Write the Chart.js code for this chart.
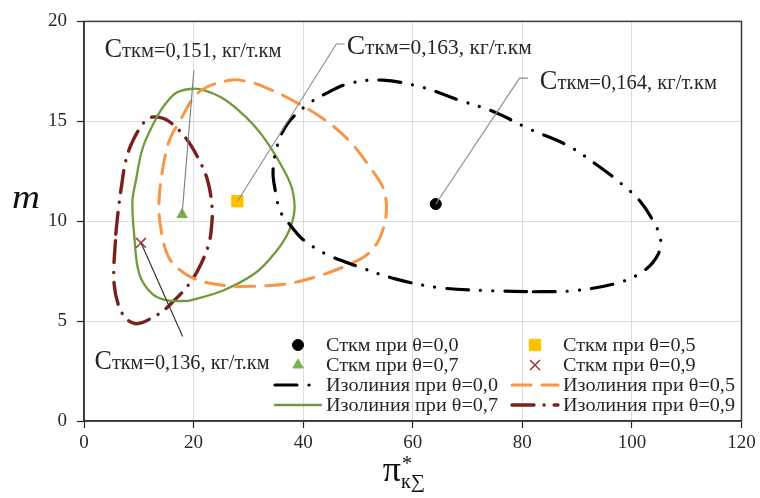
<!DOCTYPE html>
<html>
<head>
<meta charset="utf-8">
<script src="https://cdn.jsdelivr.net/npm/chart.js@4.4.1/dist/chart.umd.min.js"></script>
<style>
  html, body { margin: 0; padding: 0; background: #fff; }
  #wrap { width: 760px; height: 498px; }
</style>
</head>
<body>
<div id="wrap"><canvas id="myChart"></canvas></div>
<script>
// optimum points for each theta
const thetaLabels = ['0,0', '0,5', '0,7', '0,9'];
const optX = [64.2, 28.0, 17.9, 10.4];
const optY = [10.86, 11.0, 10.33, 8.92];
const costValues = ['0,164', '0,163', '0,151', '0,136'];

// isolines (closed loops, each starts on a flat part)
const iso00X = [82.0, 89.3, 97.3, 102.1, 104.8, 105.2, 103.9, 101.5, 98.4, 94.2, 88.2, 81.4, 74.6, 68.0, 61.8, 54.5, 48.5, 44.2, 40.6, 37.2, 35.4, 34.5, 35.0, 35.8, 37.5, 39.9, 44.2, 49.7, 57.0, 64.9, 74.6, 82.0];
const iso00Y = [6.47, 6.52, 6.9, 7.5, 8.35, 9.15, 10.0, 11.0, 11.8, 12.7, 13.8, 14.6, 15.5, 16.1, 16.7, 17.06, 16.9, 16.4, 15.8, 14.9, 13.9, 12.5, 11.4, 10.5, 9.85, 9.1, 8.35, 7.76, 7.1, 6.67, 6.52, 6.47];

const iso05X = [27.7, 33.2, 37.5, 43.3, 48.5, 51.8, 54.0, 55.2, 54.6, 52.7, 48.5, 43.6, 37.5, 33.5, 30.2, 26.5, 21.0, 17.4, 15.5, 14.3, 13.7, 14.0, 15.5, 18.6, 22.3, 27.7];
const iso05Y = [6.72, 6.77, 6.88, 7.3, 7.85, 8.35, 9.17, 10.5, 11.66, 12.5, 14.0, 15.14, 16.13, 16.65, 16.97, 17.05, 16.47, 14.98, 13.98, 12.49, 11.0, 9.67, 8.17, 7.35, 6.93, 6.72];

const iso07X = [19.2, 25.3, 31.4, 35.1, 37.3, 38.4, 38.0, 36.6, 33.8, 31.0, 28.0, 25.0, 22.0, 19.9, 17.0, 14.8, 12.9, 10.7, 9.45, 8.84, 9.15, 10.1, 12.5, 15.5, 19.2];
const iso07Y = [6.02, 6.52, 7.43, 8.5, 9.45, 10.5, 11.6, 12.5, 13.8, 14.8, 15.6, 16.2, 16.55, 16.63, 16.45, 15.85, 15.0, 13.65, 12.0, 11.0, 9.34, 7.35, 6.35, 6.02, 6.02];

const iso09X = [5.8, 6.3, 6.8, 7.6, 8.84, 11.3, 13.1, 15.5, 18.6, 21.0, 22.6, 23.4, 23.3, 22.9, 21.6, 19.2, 15.5, 13.1, 9.45, 7.0, 5.5, 5.8];
const iso09Y = [9.35, 10.66, 11.66, 13.0, 13.98, 15.06, 15.22, 15.0, 14.15, 13.07, 12.0, 10.66, 9.8, 9.0, 8.0, 6.86, 5.77, 5.27, 4.87, 5.37, 6.85, 9.35];

const xMin = 0, xMax = 120, xStep = 20;
const yMin = 0, yMax = 20, yStep = 5;

function pts(xs, ys) {
  return xs.map((x, i) => ({x: x, y: ys[i]}));
}

const serif = "'Liberation Serif', 'Times New Roman', serif";
Chart.defaults.font.family = serif;

const markerStyle = [
  {pointStyle: 'circle', pointRadius: 5.5, color: '#000000', borderWidth: 1},
  {pointStyle: 'rect', pointRadius: 8, color: '#FFC000', borderWidth: 1},
  {pointStyle: 'triangle', pointRadius: 6, color: '#7FB04E', borderWidth: 1},
  {pointStyle: 'crossRot', pointRadius: 7, color: '#A23B3A', borderWidth: 1.6}
];

const lineStyle = [
  {color: '#000000', width: 3.2, dash: [22, 12, 0.1, 12, 0.1, 12]},
  {color: '#F79646', width: 3, dash: [19, 11]},
  {color: '#6E9B3C', width: 2.3, dash: []},
  {color: '#7B1E1E', width: 3.4, dash: [22, 10, 0.1, 10]}
];

const isoData = [pts(iso00X, iso00Y), pts(iso05X, iso05Y), pts(iso07X, iso07Y), pts(iso09X, iso09Y)];

let datasets = [];
for (let i = 0; i < 4; i++) {
  const m = markerStyle[i];
  datasets.push({
    label: 'Сткм при θ=' + thetaLabels[i],
    data: [{x: optX[i], y: optY[i]}],
    pointStyle: m.pointStyle,
    pointRadius: m.pointRadius,
    pointHoverRadius: m.pointRadius,
    pointBackgroundColor: m.color,
    pointBorderColor: m.color,
    pointBorderWidth: m.borderWidth,
    showLine: false,
    order: 0
  });
}
for (let i = 0; i < 4; i++) {
  const l = lineStyle[i];
  datasets.push({
    label: 'Изолиния при θ=' + thetaLabels[i],
    data: isoData[i],
    showLine: true,
    borderColor: l.color,
    borderWidth: l.width,
    borderDash: l.dash,
    borderCapStyle: 'round',
    borderJoinStyle: 'round',
    tension: 0.35,
    pointRadius: 0,
    pointHoverRadius: 0,
    fill: false,
    order: 1
  });
}

// draw text with a horizontal fit to a given width
function drawFitText(ctx, parts, x, baseline, targetW) {
  let total = 0;
  parts.forEach(p => { ctx.font = p.font; total += ctx.measureText(p.text).width; });
  const s = targetW / total;
  ctx.save();
  ctx.translate(x, baseline);
  ctx.scale(s, 1);
  ctx.textBaseline = 'alphabetic';
  ctx.textAlign = 'left';
  let cx = 0;
  parts.forEach(p => {
    ctx.font = p.font;
    ctx.fillText(p.text, cx, p.dy || 0);
    cx += ctx.measureText(p.text).width;
  });
  ctx.restore();
}

// callouts, positions in data units
const callouts = [
  {i: 0, elbow: [79.5, 17.16], tick: [81.06, 17.16], text: [83.2, 16.62], w: 177, color: '#8a8a8a'},
  {i: 1, elbow: [46.06, 18.87], tick: [47.58, 18.87], text: [47.95, 18.36], w: 185, color: '#8a8a8a'},
  {i: 2, elbow: [20.05, 17.55], tick: null, text: [3.74, 18.21], w: 177, color: '#808080'},
  {i: 3, elbow: [18.0, 4.23], tick: null, text: [1.92, 2.59], w: 175, color: '#2a2a2a'}
];

const decorPlugin = {
  id: 'decor',
  beforeDatasetsDraw(chart) {
    const ctx = chart.ctx;
    const a = chart.chartArea;
    ctx.save();
    ctx.strokeStyle = '#3a3a3a';
    ctx.lineWidth = 1.5;
    ctx.strokeRect(a.left, a.top, a.right - a.left, a.bottom - a.top);
    ctx.restore();
  },
  afterDraw(chart) {
    const ctx = chart.ctx;
    const xs = chart.scales.x, ys = chart.scales.y;
    const px = v => xs.getPixelForValue(v);
    const py = v => ys.getPixelForValue(v);

    // callouts
    callouts.forEach(c => {
      ctx.save();
      ctx.strokeStyle = c.color;
      ctx.lineWidth = 1.1;
      ctx.beginPath();
      ctx.moveTo(px(optX[c.i]), py(optY[c.i]));
      ctx.lineTo(px(c.elbow[0]), py(c.elbow[1]));
      if (c.tick) ctx.lineTo(px(c.tick[0]), py(c.tick[1]));
      ctx.stroke();
      ctx.fillStyle = '#262626';
      drawFitText(ctx, [
        {text: 'С', font: '27px ' + serif},
        {text: 'ткм=' + costValues[c.i] + ', кг/т.км', font: '21px ' + serif}
      ], px(c.text[0]), py(c.text[1]), c.w);
      ctx.restore();
    });

    // legend, 2 columns x 4 rows
    const colX = [275, 512];
    const rowY = [345, 365, 385, 405];
    ctx.save();
    ctx.font = '18px ' + serif;
    const legScale = 172 / ctx.measureText('Изолиния при θ=0,0').width;
    chart.data.datasets.forEach((ds, k) => {
      const x0 = colX[k % 2];
      const y0 = rowY[Math.floor(k / 2)];
      if (ds.showLine) {
        ctx.save();
        ctx.strokeStyle = ds.borderColor;
        ctx.lineWidth = ds.borderWidth;
        ctx.lineCap = 'round';
        ctx.setLineDash(ds.borderDash);
        ctx.beginPath();
        ctx.moveTo(x0, y0);
        ctx.lineTo(x0 + 46, y0);
        ctx.stroke();
        ctx.restore();
      } else {
        ctx.save();
        ctx.fillStyle = ds.pointBackgroundColor;
        ctx.strokeStyle = ds.pointBorderColor;
        ctx.lineWidth = ds.pointBorderWidth;
        Chart.helpers.drawPoint(ctx, {pointStyle: ds.pointStyle, radius: ds.pointRadius, rotation: 0, borderWidth: ds.pointBorderWidth}, x0 + 23, y0);
        ctx.restore();
      }
      ctx.save();
      ctx.fillStyle = '#262626';
      ctx.font = '18px ' + serif;
      ctx.translate(x0 + 51, y0 + 6);
      ctx.scale(legScale, 1);
      ctx.textBaseline = 'alphabetic';
      ctx.fillText(ds.label, 0, 0);
      ctx.restore();
    });
    ctx.restore();

    // axis titles
    ctx.save();
    ctx.fillStyle = '#111';
    drawFitText(ctx, [{text: 'm', font: 'italic 34px ' + serif}], 12, 208, 28);
    const a = chart.chartArea;
    const tx = (a.left + a.right) / 2 - 30;
    ctx.font = '36px ' + serif;
    ctx.fillText('π', tx, 481);
    const pw = ctx.measureText('π').width;
    ctx.font = '20px ' + serif;
    ctx.fillText('*', tx + pw + 1, 470);
    ctx.fillText('к∑', tx + pw, 488);
    ctx.restore();
  }
};

const config = {
  type: 'scatter',
  data: {datasets: datasets},
  options: {
    responsive: true,
    maintainAspectRatio: false,
    animation: false,
    layout: {padding: {top: 19, right: 18.5, left: 0, bottom: 0}},
    plugins: {
      legend: {display: false},
      tooltip: {enabled: false}
    },
    scales: {
      x: {
        type: 'linear',
        min: xMin,
        max: xMax,
        afterFit: s => { s.height = 77; },
        ticks: {stepSize: xStep, padding: 4, color: '#2a2a2a', font: {family: serif, size: 19}},
        grid: {color: '#dcdcdc', lineWidth: 1, tickLength: 7, tickColor: '#222', tickWidth: 1.2},
        border: {display: true, color: '#222', width: 1.5}
      },
      y: {
        type: 'linear',
        min: yMin,
        max: yMax,
        afterFit: s => { s.width = 84; },
        ticks: {stepSize: yStep, padding: 10, color: '#2a2a2a', font: {family: serif, size: 19}},
        grid: {color: '#dcdcdc', lineWidth: 1, tickLength: 7, tickColor: '#222', tickWidth: 1.2},
        border: {display: true, color: '#222', width: 1.5}
      }
    }
  },
  plugins: [decorPlugin]
};

let myChart = document.getElementById('myChart').getContext('2d');
const diagramChart = new Chart(myChart, config);
</script>
</body>
</html>
